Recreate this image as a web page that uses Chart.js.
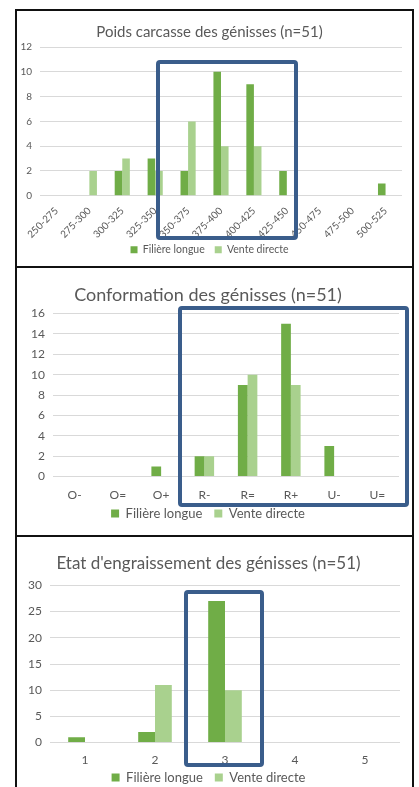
<!DOCTYPE html>
<html lang="fr">
<head>
<meta charset="UTF-8">
<title>Génisses</title>
<script src="https://cdn.jsdelivr.net/npm/chart.js@4.4.0/dist/chart.umd.min.js"></script>
<style>
  body { margin: 0; background: #fff; width: 419px; height: 787px; overflow: hidden; position: relative; }
  .panel { position: absolute; left: 15px; width: 395px; border: 2px solid #111; background: #fff; }
  .panel canvas { display: block; }
  .box { position: absolute; border: 4px solid #3a5d8b; border-radius: 4px; box-sizing: border-box; pointer-events: none; }
</style>
</head>
<body>
<div class="panel" style="top:9px;height:257px"><canvas id="poids"></canvas></div>
<div class="panel" style="top:266px;height:269px"><canvas id="conf"></canvas></div>
<div class="panel" style="top:535px;height:260px"><canvas id="etat"></canvas></div>

<div class="box" style="left:156px;top:60px;width:142px;height:180px"></div>
<div class="box" style="left:178px;top:306px;width:231px;height:201px"></div>
<div class="box" style="left:184px;top:590px;width:80px;height:177px"></div>

<script>
// Poids carcasse
const poidsLabels = ['250-275', '275-300', '300-325', '325-350', '350-375', '375-400',
  '400-425', '425-450', '450-475', '475-500', '500-525']
const poidsLongue = [0, 0, 2, 3, 2, 10, 9, 2, 0, 0, 1]
const poidsDirecte = [0, 2, 3, 2, 6, 4, 4, 0, 0, 0, 0]

// Conformation
const confLabels = ['O-', 'O=', 'O+', 'R-', 'R=', 'R+', 'U-', 'U=']
const confLongue = [0, 0, 1, 2, 9, 15, 3, 0]
const confDirecte = [0, 0, 0, 2, 10, 9, 0, 0]

// Etat d'engraissement
const etatLabels = ['1', '2', '3', '4', '5']
const etatLongue = [1, 2, 27, 0, 0]
const etatDirecte = [0, 11, 10, 0, 0]

const GREY = '#595959'
const FONT = 'Lato, "Open Sans", sans-serif'
Chart.defaults.font.family = FONT
Chart.defaults.color = GREY

// pulls the legend up a bit so item spacing and vertical gap can differ
const legendShift = {
  id: 'legendShift',
  afterLayout(chart, args, o) {
    if (!chart.legend || !o.dy) return
    chart.legend.top -= o.dy
    chart.legend.bottom -= o.dy
  }
}

function makeChart(id, opt) {
  return new Chart(document.getElementById(id), {
    type: 'bar',
    data: {
      labels: opt.labels,
      datasets: [
        { label: 'Filière longue', data: opt.longue, backgroundColor: '#70ad47', borderWidth: 0 },
        { label: 'Vente directe', data: opt.directe, backgroundColor: '#a9d18e', borderWidth: 0 }
      ]
    },
    options: {
      responsive: true,
      maintainAspectRatio: false,
      animation: false,
      categoryPercentage: opt.catPct,
      barPercentage: 1,
      layout: { padding: opt.padding },
      plugins: {
        title: {
          display: true,
          text: opt.title,
          color: GREY,
          font: { size: opt.titleSize, weight: 'normal' },
          padding: opt.titlePad
        },
        legend: {
          position: 'bottom',
          labels: {
            boxWidth: opt.legendBox,
            boxHeight: opt.legendBox,
            font: { size: opt.legendSize },
            color: GREY,
            padding: opt.legendPad
          }
        },
        legendShift: { dy: opt.legendDy },
        tooltip: { enabled: false }
      },
      scales: {
        x: {
          grid: { display: false },
          border: { display: false },
          ticks: {
            font: { size: opt.xSize },
            color: GREY,
            autoSkip: false,
            maxRotation: opt.rotate,
            minRotation: opt.rotate,
            padding: opt.xPad
          }
        },
        y: {
          min: 0,
          max: opt.max,
          grid: { color: '#d9d9d9', drawTicks: false },
          border: { display: false },
          ticks: { stepSize: opt.step, font: { size: opt.ySize }, color: GREY, padding: 8 },
          afterFit(scale) { scale.width = opt.yWidth }
        }
      }
    },
    plugins: [legendShift]
  })
}

makeChart('poids', {
  labels: poidsLabels, longue: poidsLongue, directe: poidsDirecte,
  title: 'Poids carcasse des génisses (n=51)', titleSize: 15,
  titlePad: { top: 12, bottom: 6 },
  max: 12, step: 2, yWidth: 23, ySize: 10, xSize: 10, rotate: 45, xPad: 1,
  catPct: 0.46, legendBox: 7, legendSize: 10.5, legendPad: 10, legendDy: 7,
  padding: { left: 0, right: 10, bottom: -4 }
})

makeChart('conf', {
  labels: confLabels, longue: confLongue, directe: confDirecte,
  title: 'Conformation des génisses (n=51)', titleSize: 18,
  titlePad: { top: 16, bottom: 8 },
  max: 16, step: 2, yWidth: 36, ySize: 12, xSize: 12, rotate: 0, xPad: 3,
  catPct: 0.45, legendBox: 8, legendSize: 13, legendPad: 12, legendDy: 10,
  padding: { left: 0, right: 13, bottom: -3 }
})

makeChart('etat', {
  labels: etatLabels, longue: etatLongue, directe: etatDirecte,
  title: "Etat d'engraissement des génisses (n=51)", titleSize: 17,
  titlePad: { top: 16, bottom: 12 },
  max: 30, step: 5, yWidth: 33, ySize: 12, xSize: 12, rotate: 0, xPad: 2,
  catPct: 0.48, legendBox: 8, legendSize: 13, legendPad: 12, legendDy: 10,
  padding: { left: 0, right: 12, bottom: -7 }
})
</script>
</body>
</html>
